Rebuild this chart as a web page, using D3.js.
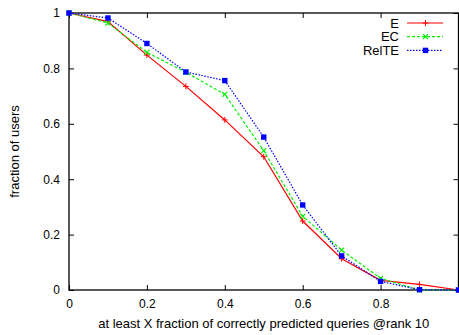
<!DOCTYPE html>
<html>
<head>
<meta charset="utf-8">
<script src="https://cdn.jsdelivr.net/npm/d3@7"></script>
<style>
  html, body { margin: 0; padding: 0; background: #fff; }
  svg { display: block; font-family: "Liberation Sans", Arial, sans-serif; }
</style>
</head>
<body>
<svg id="chart" width="459" height="335"></svg>
<script>
// data
const xValues = [0, 0.1, 0.2, 0.3, 0.4, 0.5, 0.6, 0.7, 0.8, 0.9, 1.0];
const eValues = [1, 0.969, 0.848, 0.735, 0.614, 0.481, 0.249, 0.113, 0.035, 0.02, 0];
const ecValues = [1, 0.964, 0.858, 0.786, 0.706, 0.503, 0.266, 0.144, 0.042, 0.0, 0];
const relteValues = [1, 0.982, 0.89, 0.787, 0.756, 0.552, 0.307, 0.123, 0.031, 0.001, 0];
const xTicks = [0, 0.2, 0.4, 0.6, 0.8, 1];
const yTicks = [0, 0.2, 0.4, 0.6, 0.8, 1];
// the "1" under the right edge falls off the picture in the reference
const xTickLabels = ["0", "0.2", "0.4", "0.6", "0.8", ""];
const yTickLabels = ["0", "0.2", "0.4", "0.6", "0.8", "1"];
const seriesNames = ["E", "EC", "RelTE"];

const margin = { top: 13, right: 0.5, bottom: 45, left: 69 };
const width = 459 - margin.left - margin.right;
const height = 335 - margin.top - margin.bottom;

const svg = d3.select("#chart");
const g = svg.append("g").attr("transform", "translate(" + margin.left + "," + margin.top + ")");

const x = d3.scaleLinear().domain([0, 1]).range([0, width]);
const y = d3.scaleLinear().domain([0, 1]).range([height, 0]);

// axes with inward ticks, mirrored on top and right
g.append("g")
  .attr("transform", "translate(0," + height + ")")
  .call(d3.axisBottom(x).tickValues(xTicks).tickSize(-5).tickPadding(9).tickFormat(d => xTickLabels[xTicks.indexOf(d)]))
  .call(a => a.select(".domain").remove());
g.append("g")
  .call(d3.axisTop(x).tickValues(xTicks).tickSize(-5).tickFormat(""))
  .call(a => a.select(".domain").remove());
g.append("g")
  .call(d3.axisLeft(y).tickValues(yTicks).tickSize(-5).tickPadding(9).tickFormat(d => yTickLabels[yTicks.indexOf(d)]))
  .call(a => a.select(".domain").remove());
g.append("g")
  .attr("transform", "translate(" + width + ",0)")
  .call(d3.axisRight(y).tickValues(yTicks).tickSize(-5).tickFormat(""))
  .call(a => a.select(".domain").remove());

g.selectAll(".tick line").attr("stroke", "#000").attr("stroke-width", 1);
g.selectAll(".tick text").attr("font-size", 12).attr("fill", "#000")
  .attr("font-family", "Liberation Sans, Arial, sans-serif");

g.append("rect")
  .attr("x", 0).attr("y", 0).attr("width", width).attr("height", height)
  .attr("fill", "none").attr("stroke", "#000").attr("stroke-width", 1.3);

// series
const series = [
  { name: seriesNames[0], values: eValues, color: "#ff0000", dash: null, marker: "plus" },
  { name: seriesNames[1], values: ecValues, color: "#00ee00", dash: "3,2", marker: "cross" },
  { name: seriesNames[2], values: relteValues, color: "#0000ff", dash: "1.5,1.5", marker: "square" }
];

const line = d3.line().x(d => x(d[0])).y(d => y(d[1]));

function drawMarker(sel, type, color) {
  if (type === "plus") {
    sel.append("path").attr("d", "M-3,0H3M0,-3V3").attr("stroke", color).attr("stroke-width", 1);
  } else if (type === "cross") {
    sel.append("path").attr("d", "M-2.5,-2.5L2.5,2.5M-2.5,2.5L2.5,-2.5").attr("stroke", color).attr("stroke-width", 1.2);
  } else {
    sel.append("rect").attr("x", -2.7).attr("y", -2.7).attr("width", 5.4).attr("height", 5.4).attr("fill", color);
  }
}

series.forEach(s => {
  const pts = xValues.map((v, i) => [v, s.values[i]]);
  g.append("path")
    .datum(pts)
    .attr("d", line)
    .attr("fill", "none")
    .attr("stroke", s.color)
    .attr("stroke-width", 1.2)
    .attr("stroke-dasharray", s.dash);
  g.selectAll(null)
    .data(pts)
    .enter()
    .append("g")
    .attr("transform", d => "translate(" + x(d[0]) + "," + y(d[1]) + ")")
    .each(function () { drawMarker(d3.select(this), s.marker, s.color); });
});

// legend
const legend = svg.append("g").attr("transform", "translate(399,23)");
series.forEach((s, i) => {
  const row = legend.append("g").attr("transform", "translate(0," + (i * 13.7) + ")");
  row.append("text")
    .attr("x", 0).attr("y", 0).attr("dy", "0.35em")
    .attr("text-anchor", "end").attr("font-size", 13).text(s.name);
  row.append("line")
    .attr("x1", 8).attr("x2", 44).attr("y1", 0).attr("y2", 0)
    .attr("stroke", s.color).attr("stroke-width", 1.2).attr("stroke-dasharray", s.dash);
  const m = row.append("g").attr("transform", "translate(26.5,0)");
  drawMarker(m, s.marker, s.color);
});

// axis titles
svg.append("text")
  .attr("x", margin.left + width / 2).attr("y", 328)
  .attr("text-anchor", "middle").attr("font-size", 13)
  .text("at least X fraction of correctly predicted queries @rank 10");
svg.append("text")
  .attr("transform", "translate(19," + (margin.top + height / 2) + ") rotate(-90)")
  .attr("text-anchor", "middle").attr("font-size", 13)
  .text("fraction of users");
</script>
</body>
</html>
